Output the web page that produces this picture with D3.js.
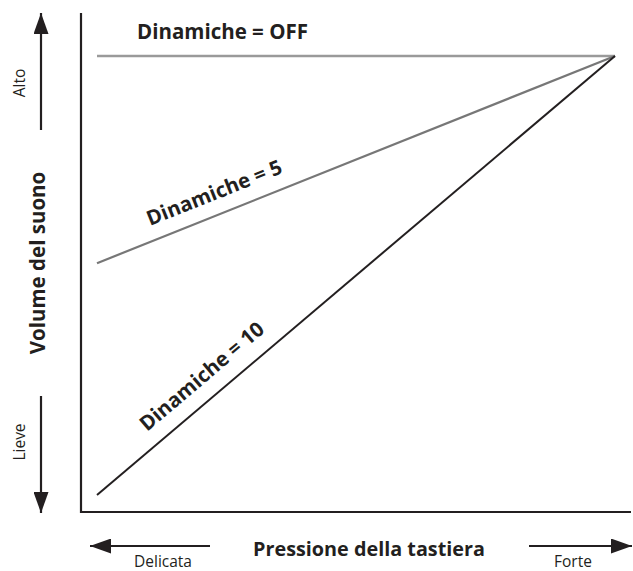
<!DOCTYPE html>
<html><head><meta charset="utf-8">
<script src="https://cdn.jsdelivr.net/npm/d3@7"></script>
<style>body{margin:0;background:#fff}svg{display:block}text{font-family:"Open Sans",sans-serif;fill:#231f20}</style>
</head><body>
<script>
const seriesNames = ["Dinamiche = OFF", "Dinamiche = 5", "Dinamiche = 10"];
const pressure = [0, 1];
const volOff = [1, 1];
const vol5 = [0.528, 1];
const vol10 = [0, 1];
const xTitle = "Pressione della tastiera";
const yTitle = "Volume del suono";
const xEnds = ["Delicata", "Forte"];
const yEnds = ["Alto", "Lieve"];

const W = 633, H = 571;
const svg = d3.select("body").append("svg").attr("width", W).attr("height", H);
const x = d3.scaleLinear().domain([0, 1]).range([97, 615]);
const y = d3.scaleLinear().domain([0, 1]).range([495, 56]);

const defs = svg.append("defs");
defs.append("marker").attr("id","ah").attr("viewBox","0 0 21 15").attr("refX",21).attr("refY",7.5)
  .attr("markerWidth",21).attr("markerHeight",15).attr("markerUnits","userSpaceOnUse").attr("orient","auto")
  .append("path").attr("d","M0,0 L21,7.5 L0,15 Z").attr("fill","#231f20");

// frame (axes)
svg.append("path").attr("d","M81,13 V512 H631").attr("fill","none").attr("stroke","#231f20").attr("stroke-width",2.2);

// lines
const series = [
  {name: seriesNames[0], v: volOff, color: "#9a9a9a", w: 2.4},
  {name: seriesNames[1], v: vol5, color: "#777777", w: 2.2},
  {name: seriesNames[2], v: vol10, color: "#231f20", w: 2}
];
const line = d3.line().x(d => x(d[0])).y(d => y(d[1]));
series.forEach(s => {
  svg.append("path").datum(pressure.map((p,i)=>[p, s.v[i]])).attr("d", line)
    .attr("fill","none").attr("stroke", s.color).attr("stroke-width", s.w);
});

// labels
const bold = 20.5;
svg.append("text").attr("x",137).attr("y",39).attr("font-size",bold).attr("font-weight",700).text(seriesNames[0]);
function angleOf(v){ const dx = x(1)-x(0), dy = y(v[1])-y(v[0]); return Math.atan2(dy,dx)*180/Math.PI; }
svg.append("text").attr("transform",`translate(150,226) rotate(${angleOf(vol5)})`)
  .attr("font-size",bold).attr("font-weight",700).text(seriesNames[1]);
svg.append("text").attr("transform",`translate(147,432) rotate(${angleOf(vol10)})`)
  .attr("font-size",bold).attr("font-weight",700).text(seriesNames[2]);

// y side arrows
svg.append("line").attr("x1",41).attr("y1",130).attr("x2",41).attr("y2",13).attr("stroke","#231f20").attr("stroke-width",2.2).attr("marker-end","url(#ah)");
svg.append("line").attr("x1",41).attr("y1",396).attr("x2",41).attr("y2",513).attr("stroke","#231f20").attr("stroke-width",2.2).attr("marker-end","url(#ah)");
svg.append("text").attr("transform","translate(20,83) rotate(-90)").attr("text-anchor","middle").attr("dy","0.35em").attr("font-size",15.5).text(yEnds[0]);
svg.append("text").attr("transform","translate(20,442) rotate(-90)").attr("text-anchor","middle").attr("dy","0.35em").attr("font-size",15.5).text(yEnds[1]);
svg.append("text").attr("transform","translate(38,263) rotate(-90)").attr("text-anchor","middle").attr("dy","0.35em").attr("font-size",bold).attr("font-weight",700).text(yTitle);

// x side arrows
svg.append("line").attr("x1",210).attr("y1",546).attr("x2",90).attr("y2",546).attr("stroke","#231f20").attr("stroke-width",2.2).attr("marker-end","url(#ah)");
svg.append("line").attr("x1",529).attr("y1",546).attr("x2",632).attr("y2",546).attr("stroke","#231f20").attr("stroke-width",2.2).attr("marker-end","url(#ah)");
svg.append("text").attr("x",163).attr("y",567).attr("text-anchor","middle").attr("font-size",15.5).text(xEnds[0]);
svg.append("text").attr("x",573).attr("y",567).attr("text-anchor","middle").attr("font-size",15.5).text(xEnds[1]);
svg.append("text").attr("x",369).attr("y",556).attr("text-anchor","middle").attr("font-size",19.8).attr("font-weight",700).text(xTitle);
</script>
</body></html>
